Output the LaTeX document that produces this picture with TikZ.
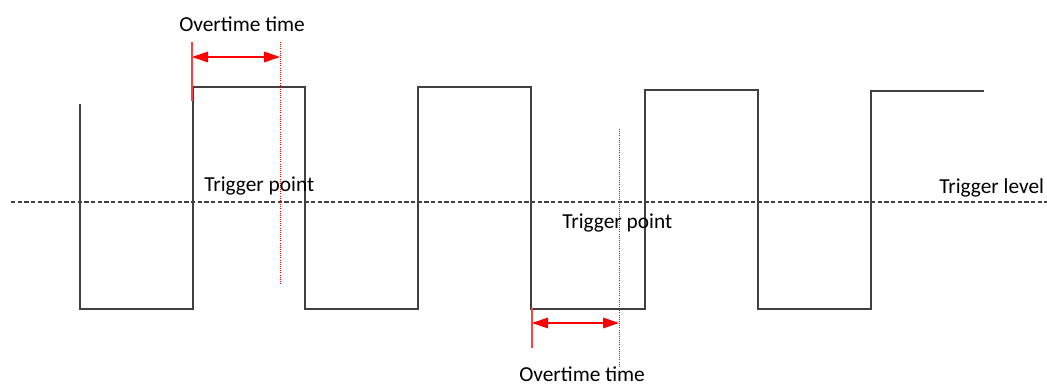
\documentclass[tikz,border=0pt]{standalone}
\usepackage{fontspec}
\setmainfont{Carlito}
\usepackage{tikz}
\usetikzlibrary{positioning, arrows.meta, calc}
\definecolor{wavegray}{HTML}{404040}
\tikzset{
  wave/.style={draw=wavegray, line width=1.8pt, line join=miter},
  level/.style={draw=wavegray, line width=1.5pt, dash pattern=on 3.3pt off 1.7pt},
  mark line/.style={draw=red!75, line width=0.9pt},
  cursor/.style={draw=red, line width=0.6pt, densely dotted},
  span/.style={draw=red, line width=0.8pt, {Triangle[length=12pt, width=8pt]}-{Triangle[length=12pt, width=8pt]}},
  label/.style={font=\fontsize{16}{18}\selectfont, inner sep=0pt, text depth=0pt, anchor=base west}
}
\begin{document}
\begin{tikzpicture}[x=0.75pt, y=-0.75pt]
  \useasboundingbox (0,0) rectangle (1047,385);
  % Trigger level
  \coordinate (lvlA) at (11,202);
  \coordinate (lvlB) at (1047,202);
  \draw[level] (lvlA) -- (lvlB);
  \node[label] (lvl) at (939,193) {Trigger level};

  % Square wave
  \draw[wave] (80,104) -- (80,309) -- (193,309) -- (193,87) -- (305,87)
    -- (305,309) -- (418,309) -- (418,87) -- (531,87) -- (531,309)
    -- (645,309) -- (645,90) -- (758,90) -- (758,309) -- (871,309)
    -- (871,91) -- (984,91);

  % First overtime window (rising edge)
  \coordinate (r1top) at (192,42);
  \coordinate (r1bot) at (192,101);
  \coordinate (t1top) at (280,42);
  \coordinate (t1bot) at (280,285);
  \draw[mark line] (r1top) -- (r1bot);
  \draw[cursor] (t1top) -- (t1bot);
  \coordinate (a1L) at (192,57);
  \coordinate (a1R) at (280,57);
  \draw[span] (a1L) -- (a1R);
  \node[label] (ot1) at (179,32) {Overtime time};
  \node[label] (tp1) at (204,191) {Trigger point};

  % Second overtime window (falling edge)
  \coordinate (r2top) at (532,308);
  \coordinate (r2bot) at (532,348);
  \coordinate (t2top) at (619,129);
  \coordinate (t2bot) at (619,366);
  \draw[mark line] (r2top) -- (r2bot);
  \draw[cursor] (t2top) -- (t2bot);
  \coordinate (a2L) at (532,323);
  \coordinate (a2R) at (619,323);
  \draw[span] (a2L) -- (a2R);
  \node[label] (ot2) at (519,381) {Overtime time};
  \node[label] (tp2) at (562,228) {Trigger point};
\end{tikzpicture}
\end{document}
